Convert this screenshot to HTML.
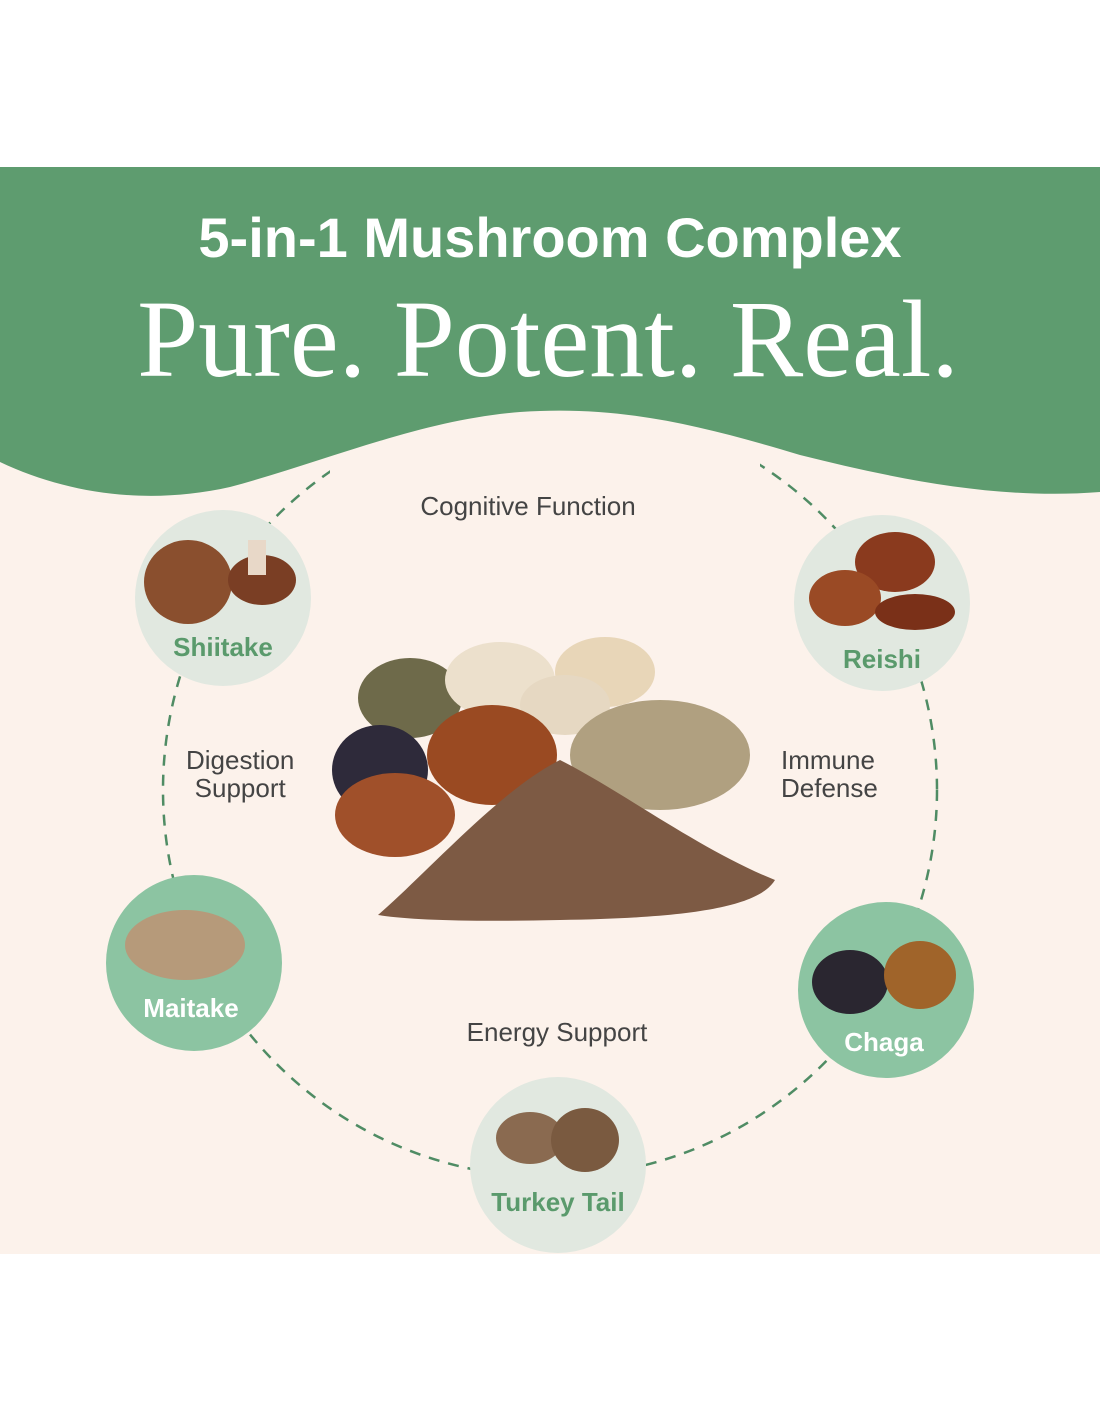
<!DOCTYPE html>
<html><head><style>
html,body{margin:0;padding:0;background:#fff}
body{width:1100px;height:1422px;position:relative;overflow:hidden;font-family:"Liberation Sans",sans-serif}
.t{position:absolute;white-space:nowrap}
</style></head><body>
<svg width="1100" height="1422" style="position:absolute;left:0;top:0">
<defs><clipPath id="c"><path d="M0 0 H1100 V1422 H0 Z M330 380 V520 H760 V380 Z" clip-rule="evenodd"/></clipPath></defs>
<rect x="0" y="167" width="1100" height="1087" fill="#fcf2eb"/>
<circle cx="550" cy="790" r="387" fill="none" stroke="#4f8c64" stroke-width="2.5" stroke-dasharray="11 9" clip-path="url(#c)"/>
<path d="M0 167 H1100 V492 C1000 500 900 480 800 455 C700 425 620 405 520 412 C420 420 330 460 230 487 C150 505 70 495 0 462 Z" fill="#5e9c6f"/>
<circle cx="223" cy="598" r="88" fill="#e1e8e0"/>
<circle cx="882" cy="603" r="88" fill="#e1e8e0"/>
<circle cx="194" cy="963" r="88" fill="#8cc4a2"/>
<circle cx="886" cy="990" r="88" fill="#8cc4a2"/>
<circle cx="558" cy="1165" r="88" fill="#e1e8e0"/>
<ellipse cx="188" cy="582" rx="44" ry="42" fill="#8a4f2e"/>
<ellipse cx="262" cy="580" rx="34" ry="25" fill="#7a3e24"/>
<rect x="248" y="540" width="18" height="35" fill="#e8d8c8"/>
<ellipse cx="895" cy="562" rx="40" ry="30" fill="#8a3a1e"/>
<ellipse cx="845" cy="598" rx="36" ry="28" fill="#9a4a25"/>
<ellipse cx="915" cy="612" rx="40" ry="18" fill="#7a3018"/>
<ellipse cx="185" cy="945" rx="60" ry="35" fill="#b69a7a"/>
<ellipse cx="850" cy="982" rx="38" ry="32" fill="#2a2630"/>
<ellipse cx="920" cy="975" rx="36" ry="34" fill="#a0642a"/>
<ellipse cx="530" cy="1138" rx="34" ry="26" fill="#8a6a50"/>
<ellipse cx="585" cy="1140" rx="34" ry="32" fill="#7a5a40"/>
<ellipse cx="410" cy="698" rx="52" ry="40" fill="#6e6a4a"/>
<ellipse cx="500" cy="680" rx="55" ry="38" fill="#ece0cc"/>
<ellipse cx="605" cy="672" rx="50" ry="35" fill="#e8d6b8"/>
<ellipse cx="565" cy="705" rx="45" ry="30" fill="#e6d8c2"/>
<ellipse cx="660" cy="755" rx="90" ry="55" fill="#b0a080"/>
<ellipse cx="380" cy="770" rx="48" ry="45" fill="#2e2a3a"/>
<ellipse cx="492" cy="755" rx="65" ry="50" fill="#9a4a22"/>
<ellipse cx="395" cy="815" rx="60" ry="42" fill="#a0502a"/>
<path d="M378 915 C430 870 500 790 560 760 C620 790 700 850 775 880 C760 905 700 918 560 920 C470 922 410 920 378 915 Z" fill="#7d5a44"/>
</svg>
<div class="t" style="left:0;width:1100px;text-align:center;top:205px;font-size:56px;font-weight:bold;color:#fff">5-in-1 Mushroom Complex</div>
<div class="t" style="left:0;width:1096px;text-align:center;top:276px;font-family:'Liberation Serif',serif;font-size:110px;color:#fff">Pure. Potent. Real.</div>
<div class="t" style="left:0;width:1056px;text-align:center;top:491px;font-size:26px;color:#444">Cognitive Function</div>
<div class="t" style="left:186px;top:746px;font-size:26px;color:#444;text-align:center;line-height:28px">Digestion<br>Support</div>
<div class="t" style="left:781px;top:746px;font-size:26px;color:#444;line-height:28px">Immune<br>Defense</div>
<div class="t" style="left:0;width:1114px;text-align:center;top:1017px;font-size:26px;color:#444">Energy Support</div>
<div class="t" style="left:123px;width:200px;text-align:center;top:632px;font-size:26px;font-weight:bold;color:#5a9a6c">Shiitake</div>
<div class="t" style="left:782px;width:200px;text-align:center;top:644px;font-size:26px;font-weight:bold;color:#5a9a6c">Reishi</div>
<div class="t" style="left:91px;width:200px;text-align:center;top:993px;font-size:26px;font-weight:bold;color:#fff">Maitake</div>
<div class="t" style="left:784px;width:200px;text-align:center;top:1027px;font-size:26px;font-weight:bold;color:#fff">Chaga</div>
<div class="t" style="left:458px;width:200px;text-align:center;top:1187px;font-size:26px;font-weight:bold;color:#5a9a6c">Turkey Tail</div>
</body></html>
